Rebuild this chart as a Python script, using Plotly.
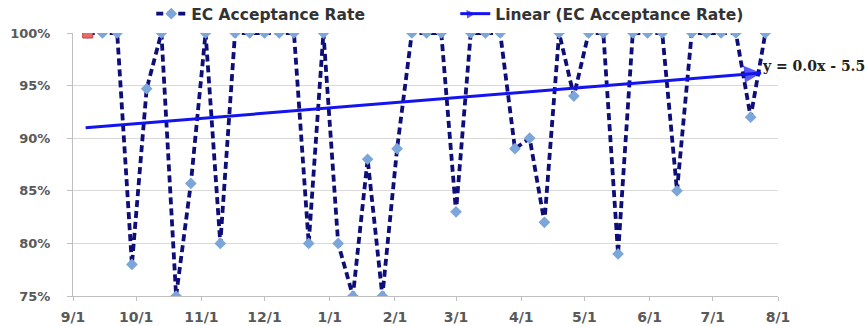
import plotly.graph_objects as go

# ---- data ----
week_dates = [
    "2011-09-08", "2011-09-15", "2011-09-22", "2011-09-29", "2011-10-06", "2011-10-13",
    "2011-10-20", "2011-10-27", "2011-11-03", "2011-11-10", "2011-11-17", "2011-11-24",
    "2011-12-01", "2011-12-08", "2011-12-15", "2011-12-22", "2011-12-29",
    "2012-01-05", "2012-01-12", "2012-01-19", "2012-01-26", "2012-02-02", "2012-02-09",
    "2012-02-16", "2012-02-23", "2012-03-01", "2012-03-08", "2012-03-15", "2012-03-22",
    "2012-03-29", "2012-04-05", "2012-04-12", "2012-04-19", "2012-04-26", "2012-05-03",
    "2012-05-10", "2012-05-17", "2012-05-24", "2012-05-31", "2012-06-07", "2012-06-14",
    "2012-06-21", "2012-06-28", "2012-07-05", "2012-07-12", "2012-07-19", "2012-07-26",
]
acceptance_rate = [
    100, 100, 100, 78, 94.7, 100, 75, 85.7, 100, 80, 100, 100,
    100, 100, 100, 80, 100,
    80, 75, 88, 75, 89, 100, 100, 100, 83, 100, 100, 100,
    89, 90, 82, 100, 94, 100, 100, 79, 100, 100, 100, 85,
    100, 100, 100, 100, 92, 100,
]
trend_dates = ["2011-09-07", "2012-07-24"]
trend_values = [91.0, 96.2]

tick_dates = ["2011-09-01", "2011-10-01", "2011-11-01", "2011-12-01", "2012-01-01",
              "2012-02-01", "2012-03-01", "2012-04-01", "2012-05-01", "2012-06-01",
              "2012-07-01", "2012-08-01"]
tick_labels = ["9/1", "10/1", "11/1", "12/1", "1/1", "2/1", "3/1", "4/1", "5/1",
               "6/1", "7/1", "8/1"]
y_ticks = [75, 80, 85, 90, 95, 100]
y_tick_labels = ["75%", "80%", "85%", "90%", "95%", "100%"]
trend_label = "y = 0.0x - 5.5"

fig = go.Figure()

fig.add_trace(go.Scatter(
    x=week_dates, y=acceptance_rate, name="EC Acceptance Rate",
    mode="lines+markers",
    line=dict(color="#0E0E78", width=3.8, dash="7px,4px"),
    marker=dict(symbol="diamond", size=9, color="#7BA6DA", line=dict(width=0)),
))
# first point highlighted
fig.add_trace(go.Scatter(
    x=week_dates[:1], y=acceptance_rate[:1], mode="markers", showlegend=False,
    marker=dict(symbol="square", size=10, color="#E86A6A", line=dict(width=1, color="#C04040")),
))
fig.add_trace(go.Scatter(
    x=trend_dates, y=trend_values, name="Linear (EC Acceptance Rate)",
    mode="lines+markers",
    line=dict(color="#1414F0", width=3),
    marker=dict(symbol="arrow-right", size=[0, 17], angle=-4.6, color="#1414F0",
                line=dict(width=0)),
))

fig.add_annotation(
    x=0.974, y=0.875, xref="paper", yref="paper", xanchor="left", yanchor="middle",
    text="<b>" + trend_label + "</b>", showarrow=False,
    font=dict(family="DejaVu Serif", size=14, color="#222222"),
)

fig.update_layout(
    width=865, height=326,
    margin=dict(l=73, r=87, t=33, b=30, autoexpand=False),
    paper_bgcolor="white", plot_bgcolor="white",
    showlegend=True,
    legend=dict(orientation="h", x=0.111, y=1.072, xanchor="left", yanchor="middle",
                entrywidth=259, font=dict(family="DejaVu Sans", size=15.5, color="#333333",
                                          weight="bold"),
                bgcolor="rgba(0,0,0,0)"),
    xaxis=dict(
        type="date", range=["2011-09-01", "2012-08-01"],
        tickvals=tick_dates, ticktext=tick_labels,
        showgrid=False, zeroline=False,
        showline=True, linecolor="#BFBFBF", linewidth=1,
        ticks="outside", ticklen=4, tickcolor="#BFBFBF",
        tickfont=dict(family="DejaVu Sans", size=14, color="#595959", weight="bold"),
        ticklabelstandoff=4,
    ),
    yaxis=dict(
        range=[75, 100], tickvals=y_ticks, ticktext=y_tick_labels,
        showgrid=True, gridcolor="#D9D9D9", gridwidth=1, zeroline=False,
        showline=True, linecolor="#BFBFBF", linewidth=1,
        ticks="outside", ticklen=5, tickcolor="#BFBFBF",
        tickfont=dict(family="DejaVu Sans", size=13, color="#595959", weight="bold"),
        ticklabelstandoff=14,
    ),
)

fig.write_html("out.html", config={"displayModeBar": False},
               post_script="document.body.style.margin='0px';")
